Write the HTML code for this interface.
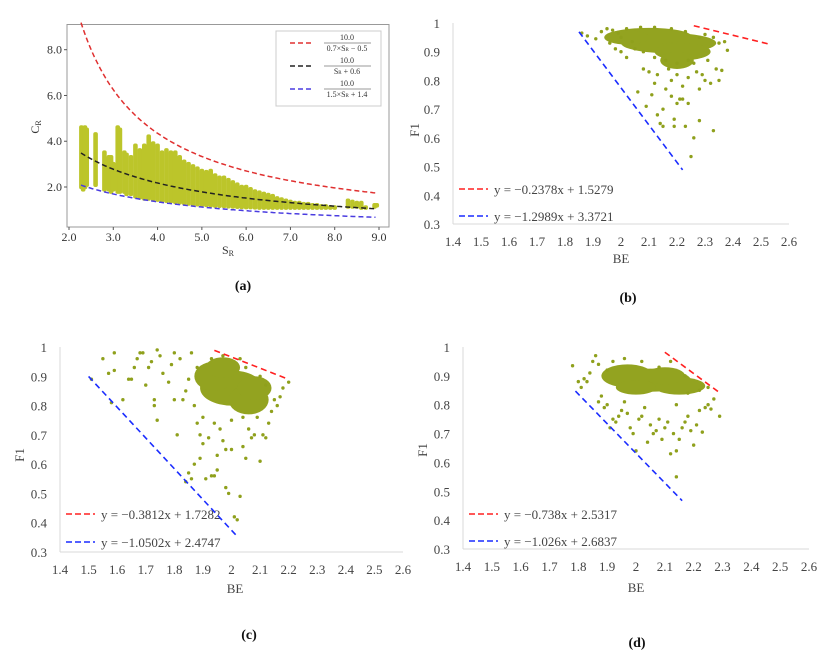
<!DOCTYPE html>
<html><head><meta charset="utf-8">
<style>
body{margin:0;background:#fff;}
svg{display:block;font-family:"Liberation Serif",serif;}
</style></head>
<body>
<svg id="fig" width="832" height="660" viewBox="0 0 832 660" xmlns="http://www.w3.org/2000/svg"></svg>
<script>
// ---------- Panel (a) data ----------
const aSr  = [2.28,2.32,2.36,2.40,2.6,2.8,2.85,2.9,2.95,3.0,3.1,3.15,3.25,3.3,3.4,3.5,3.6,3.7,3.8,3.9,4.0,4.1,4.2,4.3,4.4,4.5,4.6,4.7,4.8,4.9,5.0,5.1,5.2,5.3,5.4,5.5,5.6,5.7,5.8,5.9,6.0,6.1,6.2,6.3,6.4,6.5,6.6,6.7,6.8,6.9,7.0,7.1,7.2,7.3,7.4,7.5,7.6,7.7,7.8,7.9,8.0,8.3,8.4,8.5,8.6,8.7,8.9,8.95];
const aLow = [1.9,1.8,1.9,2.0,2.0,1.8,1.9,1.8,1.7,1.8,1.7,1.7,1.7,1.6,1.6,1.5,1.45,1.4,1.4,1.38,1.35,1.32,1.3,1.28,1.25,1.23,1.2,1.18,1.16,1.15,1.13,1.12,1.1,1.09,1.08,1.07,1.06,1.05,1.04,1.03,1.02,1.02,1.01,1.0,1.0,1.0,1.0,1.0,1.0,1.0,1.0,1.0,1.0,1.0,1.0,1.0,1.0,1.0,1.0,1.0,1.0,1.05,1.05,1.05,1.0,1.0,1.05,1.1];
const aHigh= [4.7,4.6,4.7,4.6,4.4,3.6,3.3,3.4,3.4,3.1,4.7,4.6,3.6,3.5,3.4,3.9,3.7,3.9,4.3,4.0,3.9,3.6,3.7,3.6,3.6,3.4,3.2,3.1,3.0,2.9,2.8,2.75,2.8,2.6,2.5,2.5,2.4,2.3,2.2,2.1,2.1,2.0,1.9,1.85,1.8,1.75,1.7,1.6,1.55,1.5,1.45,1.4,1.4,1.35,1.35,1.3,1.3,1.25,1.25,1.2,1.2,1.5,1.45,1.4,1.4,1.2,1.3,1.3];
const aXTicks = [2,3,4,5,6,7,8,9];
const aYTicks = [2,4,6,8];
const aCurves = [ // 10/(a*x+b)
  {a:0.7,b:-0.5,c:'#e03030',from:2.27,to:8.95},
  {a:1.0,b:0.6,c:'#222',from:2.27,to:8.95},
  {a:1.5,b:1.4,c:'#4a3ce0',from:2.27,to:8.95}];

// ---------- F1 vs BE panels ----------
const beTicks = [1.4,1.5,1.6,1.7,1.8,1.9,2,2.1,2.2,2.3,2.4,2.5,2.6];
const f1Ticks = [0.3,0.4,0.5,0.6,0.7,0.8,0.9,1];
const bBE = [1.86,1.88,1.91,1.93,1.95,1.97,1.99,2.0,2.0,2.02,2.05,2.06,2.08,2.09,2.1,2.11,2.12,2.13,2.13,2.14,2.15,2.15,2.16,2.17,2.18,2.18,2.19,2.19,2.2,2.2,2.21,2.22,2.22,2.23,2.24,2.24,2.25,2.26,2.27,2.28,2.28,2.29,2.3,2.32,2.33,2.34,2.35,2.36,2.38,2.37,2.35,2.33,2.3,2.31,2.26,2.24,2.2,2.16,2.12,2.08,2.04,2.02,2.07,2.12,2.18,2.23,2.28,1.96,1.98];
const bF1 = [0.965,0.955,0.945,0.97,0.98,0.975,0.965,0.95,0.9,0.88,0.91,0.76,0.84,0.71,0.83,0.75,0.79,0.82,0.68,0.65,0.64,0.7,0.77,0.84,0.745,0.8,0.64,0.665,0.82,0.72,0.735,0.735,0.78,0.64,0.72,0.81,0.535,0.6,0.83,0.77,0.66,0.82,0.8,0.79,0.625,0.84,0.8,0.835,0.905,0.935,0.93,0.95,0.96,0.87,0.86,0.87,0.86,0.87,0.88,0.9,0.935,0.98,0.985,0.985,0.98,0.97,0.95,0.93,0.91];
const cBE = [1.51,1.55,1.57,1.58,1.59,1.59,1.62,1.64,1.65,1.66,1.67,1.68,1.69,1.7,1.71,1.72,1.73,1.73,1.74,1.74,1.75,1.76,1.78,1.79,1.8,1.8,1.81,1.82,1.83,1.84,1.85,1.86,1.86,1.87,1.88,1.89,1.89,1.9,1.91,1.92,1.93,1.94,1.95,1.95,1.96,1.97,1.98,1.98,1.99,2.0,2.01,2.02,2.03,2.04,2.05,2.06,2.07,2.08,2.09,2.1,2.11,2.12,2.13,2.14,2.15,2.16,2.17,2.18,2.2,2.12,2.1,2.05,2.03,1.97,1.93,1.88,1.85,1.84,1.87,1.9,1.94,2.0,2.04];
const cF1 = [0.89,0.96,0.91,0.81,0.92,0.98,0.82,0.89,0.89,0.93,0.96,0.98,0.98,0.87,0.93,0.95,0.82,0.8,0.75,0.99,0.97,0.91,0.88,0.94,0.98,0.82,0.7,0.96,0.82,0.54,0.57,0.55,0.98,0.6,0.74,0.62,0.7,0.67,0.55,0.69,0.56,0.56,0.63,0.58,0.72,0.68,0.52,0.65,0.5,0.65,0.42,0.41,0.49,0.66,0.62,0.72,0.69,0.7,0.76,0.61,0.7,0.69,0.74,0.78,0.82,0.8,0.83,0.86,0.88,0.87,0.9,0.93,0.96,0.97,0.96,0.93,0.89,0.85,0.8,0.76,0.74,0.75,0.76];
const dBE = [1.78,1.8,1.81,1.82,1.83,1.84,1.85,1.86,1.87,1.87,1.88,1.89,1.9,1.91,1.92,1.93,1.94,1.95,1.96,1.97,1.98,1.99,2.0,2.01,2.02,2.03,2.04,2.05,2.06,2.07,2.08,2.09,2.1,2.11,2.12,2.13,2.14,2.14,2.15,2.16,2.17,2.18,2.19,2.2,2.21,2.22,2.23,2.24,2.25,2.26,2.27,2.29,2.25,2.22,2.18,2.14,2.08,2.02,1.96,1.92,1.9,2.12,2.17];
const dF1 = [0.935,0.88,0.86,0.89,0.88,0.91,0.95,0.97,0.94,0.81,0.83,0.79,0.8,0.72,0.75,0.74,0.76,0.78,0.81,0.77,0.72,0.7,0.64,0.75,0.76,0.79,0.67,0.73,0.7,0.71,0.75,0.68,0.72,0.74,0.63,0.7,0.64,0.55,0.68,0.72,0.74,0.76,0.71,0.66,0.73,0.78,0.705,0.79,0.8,0.785,0.82,0.76,0.86,0.85,0.84,0.8,0.93,0.95,0.96,0.95,0.92,0.95,0.9];
// dense cores: [cx, cy, rx, ry] in data units
const bCores = [[2.17,0.93,0.17,0.035],[2.1,0.955,0.15,0.028],[2.22,0.9,0.1,0.03],[2.02,0.95,0.08,0.025],[2.2,0.87,0.06,0.03]];
const cCores = [[2.0,0.86,0.11,0.06],[1.94,0.9,0.07,0.05],[2.06,0.82,0.07,0.05],[1.97,0.93,0.06,0.035],[2.08,0.86,0.06,0.04]];
const dCores = [[2.05,0.885,0.14,0.04],[1.97,0.9,0.09,0.04],[2.15,0.865,0.09,0.03],[2.1,0.9,0.07,0.03],[2.0,0.86,0.07,0.025]];
const bFits = [[-0.2378,1.5279,2.26,2.53],[-1.2989,3.3721,1.85,2.22]];
const cFits = [[-0.3812,1.7282,1.94,2.2],[-1.0502,2.4747,1.5,2.02]];
const dFits = [[-0.738,2.5317,2.1,2.29],[-1.026,2.6837,1.79,2.16]];
const bLabels = ['y = \u22120.2378x + 1.5279','y = \u22121.2989x + 3.3721'];
const cLabels = ['y = \u22120.3812x + 1.7282','y = \u22121.0502x + 2.4747'];
const dLabels = ['y = \u22120.738x + 2.5317','y = \u22121.026x + 2.6837'];

const NS='http://www.w3.org/2000/svg';
const svg=document.getElementById('fig');
function mk(tag,attrs,parent,text){const e=document.createElementNS(NS,tag);for(const k in attrs)e.setAttribute(k,attrs[k]);if(text!==undefined)e.textContent=text;(parent||svg).appendChild(e);return e;}

// ===== Panel (a) =====
(function(){
  const g=mk('g',{});
  
  
  const X=v=>69+(v-2)*(379-69)/7, Y=v=>187-(v-2)*(187-49.7)/6;
  const fr=mk('rect',{x:67,y:24.5,width:322,height:202.5,fill:'none',stroke:'#999','stroke-width':1},g);
  
  
  aXTicks.forEach(t=>{
    mk('line',{x1:X(t),x2:X(t),y1:227,y2:230,stroke:'#555'},g);
    const tx=mk('text',{x:X(t),y:241,'font-size':12,'text-anchor':'middle',fill:'#333'},g,t.toFixed(1));
    
    
  });
  aYTicks.forEach(t=>{
    mk('line',{x1:64,x2:67,y1:Y(t),y2:Y(t),stroke:'#555'},g);
    const tx=mk('text',{x:62,y:Y(t)+4,'font-size':12,'text-anchor':'end',fill:'#333'},g,t.toFixed(1));
    
    
  });
  aSr.forEach((s,i)=>{
    const r=mk('rect',{x:X(s)-2.3,y:Y(aHigh[i]),width:4.6,height:Y(aLow[i])-Y(aHigh[i]),rx:2,fill:'#bcc52a'},g);
    
    
  });
  aCurves.forEach(c=>{
    let d='';
    for(let s=c.from;s<=c.to+1e-9;s+=0.05){d+=(d?'L':'M')+X(s).toFixed(1)+','+Y(10/(c.a*s+c.b)).toFixed(1);}
    const p=mk('path',{d:d,fill:'none',stroke:c.c,'stroke-width':1.5,'stroke-dasharray':'5,3'},g);
    
    
  });
  const xl=mk('text',{x:228,y:254,'font-size':12,'text-anchor':'middle',fill:'#333'},g,'S');
  mk('tspan',{'font-size':8,dy:2},xl,'R');
  
  
  const yl=mk('text',{x:0,y:0,'font-size':12,'text-anchor':'middle',fill:'#333',transform:'translate(39,127) rotate(-90)'},g,'C');
  mk('tspan',{'font-size':8,dy:2},yl,'R');
  
  
  const lg=mk('g',{},g);
  
  
  mk('rect',{x:276,y:31,width:105,height:75,fill:'#fff',stroke:'#ccc'},lg);
  const fr2=[['0.7\u00d7S','R',' \u2212 0.5'],['S','R',' + 0.6'],['1.5\u00d7S','R',' + 1.4']];
  aCurves.forEach((c,i)=>{
    const y=43+i*23;
    const e=mk('g',{},lg);
    
    
    mk('line',{x1:290,x2:311,y1:y,y2:y,stroke:c.c,'stroke-width':1.5,'stroke-dasharray':'5,3'},e);
    mk('text',{x:347,y:y-3,'font-size':8,'text-anchor':'middle',fill:'#333'},e,'10.0');
    mk('line',{x1:324,x2:371,y1:y,y2:y,stroke:'#333','stroke-width':0.6},e);
    const t=mk('text',{x:347,y:y+8,'font-size':8,'text-anchor':'middle',fill:'#333'},e,fr2[i][0]);
    mk('tspan',{'font-size':5},t,fr2[i][1]);
    mk('tspan',{},t,fr2[i][2]);
  });
  const cap=mk('text',{x:243,y:290,'font-size':14,'text-anchor':'middle','font-weight':'bold',fill:'#111'},svg,'(a)');
  
  
})();

// ===== F1 panels =====
function f1Panel(name,o,be,f1,cores,fits,labels){
  const g=mk('g',{});
  
  
  const X=v=>o.x0+(v-1.4)*(o.x1-o.x0)/1.2, Y=v=>o.y1-(v-0.3)*(o.y1-o.y0)/0.7;
  mk('line',{x1:o.x0,x2:o.x0,y1:o.y0,y2:o.y1,stroke:'#d9d9d9'},g);
  mk('line',{x1:o.x0,x2:o.x1,y1:o.y1,y2:o.y1,stroke:'#d9d9d9'},g);
  beTicks.forEach(t=>{
    const tx=mk('text',{x:X(t),y:o.y1+22,'font-size':13,'text-anchor':'middle',fill:'#444'},g,String(t));
    
    
  });
  f1Ticks.forEach(t=>{
    const tx=mk('text',{x:o.x0-13,y:Y(t)+5,'font-size':13,'text-anchor':'end',fill:'#444'},g,String(t));
    
    
  });
  cores.forEach(c=>{
    const e=mk('ellipse',{cx:X(c[0]),cy:Y(c[1]),rx:c[2]*(o.x1-o.x0)/1.2,ry:c[3]*(o.y1-o.y0)/0.7,fill:'#93a320'},g);
    
    
  });
  be.forEach((v,i)=>{
    const p=mk('circle',{cx:X(v),cy:Y(f1[i]),r:1.7,fill:'#8fa01c'},g);
    
    
  });
  const cols=['#ff2020','#1a2cff'];
  fits.forEach((f,i)=>{
    const l=mk('line',{x1:X(f[2]),y1:Y(f[0]*f[2]+f[1]),x2:X(f[3]),y2:Y(f[0]*f[3]+f[1]),stroke:cols[i],'stroke-width':1.6,'stroke-dasharray':'6,4'},g);
    
    
    const e=mk('g',{},g);
    
    
    const ly=o.ly[i];
    mk('line',{x1:o.lx,x2:o.lx+29,y1:ly,y2:ly,stroke:cols[i],'stroke-width':1.6,'stroke-dasharray':'6,3'},e);
    mk('text',{x:o.lx+35,y:ly+5,'font-size':13,fill:'#444'},e,labels[i]);
  });
  const xl=mk('text',{x:o.bx,y:o.by,'font-size':13,'text-anchor':'middle',fill:'#444'},g,'BE');
  
  
  const yl=mk('text',{x:0,y:0,'font-size':13,'text-anchor':'middle',fill:'#444',transform:'translate('+o.fx+','+o.fy+') rotate(-90)'},g,'F1');
  
  
  const cap=mk('text',{x:o.cx,y:o.cy,'font-size':14,'text-anchor':'middle','font-weight':'bold',fill:'#111'},svg,'('+name+')');
  
  
}
f1Panel('b',{x0:453,x1:789,y0:23,y1:224,lx:459,ly:[189,216],bx:621,by:263,fx:419,fy:130,cx:628,cy:302},bBE,bF1,bCores,bFits,bLabels);
f1Panel('c',{x0:60,x1:403,y0:347,y1:552,lx:66,ly:[514,542],bx:235,by:593,fx:24,fy:455,cx:249,cy:639},cBE,cF1,cCores,cFits,cLabels);
f1Panel('d',{x0:463,x1:809,y0:347,y1:549,lx:469,ly:[514,541],bx:636,by:592,fx:427,fy:450,cx:637,cy:647},dBE,dF1,dCores,dFits,dLabels);
</script>
</body></html>
